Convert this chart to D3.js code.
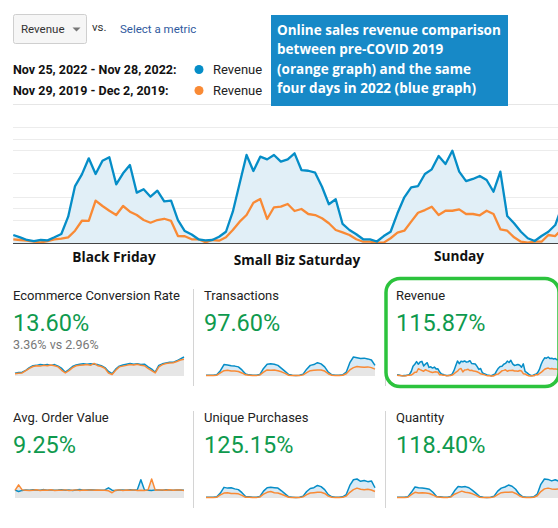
<!DOCTYPE html>
<html lang="en">
<head>
<meta charset="UTF-8">
<title>Revenue comparison</title>
<script src="https://cdnjs.cloudflare.com/ajax/libs/d3/7.8.5/d3.min.js"></script>
<style>
  body { margin: 0; background: #fff; }
  svg { display: block; font-family: Roboto, Arial, sans-serif; }
</style>
</head>
<body>
<div id="chart"></div>
<script>
// ---- data ----
// hourly revenue, Nov 25-28 2022 (blue) and Nov 29 - Dec 2 2019 (orange)
const rev2022 = [345, 245, 130, 85, 130, 115, 245, 390, 1135, 2455, 2960, 3650, 2975, 3545, 3695, 2530,
  3005, 3360, 2170, 2315, 1995, 2255, 1795, 1825, 990, 515, 365, 160, 115, 130, 270, 485,
  1350, 2575, 3795, 3105, 3720, 3605, 3795, 3505, 3605, 3865, 3145, 3115, 3030, 2425, 1670, 1885,
  820, 560, 375, 160, 160, 65, 300, 485, 1280, 1970, 2400, 2455, 2975, 3175, 3750, 3405,
  3980, 3075, 2670, 2760, 2890, 2715, 2210, 3075, 1165, 850, 485, 205, 85, 300, 485, 775,
  1600, 2900, 3900, 4600, 4500, 4800, 4400, 4500, 4300, 4400, 4100, 4200, 4000, 4300, 3900, 2900];
const rev2019 = [160, 130, 100, 55, 30, 85, 160, 185, 245, 530, 960, 950, 1825, 1595, 1390, 1205,
  1595, 1350, 1205, 990, 875, 990, 1045, 950, 300, 290, 160, 160, 30, 130, 100, 245,
  560, 920, 1205, 1735, 1895, 1035, 1540, 1565, 1680, 1380, 1465, 1250, 1205, 1065, 850, 560,
  460, 345, 160, 55, 55, 15, 15, 205, 445, 530, 920, 1305, 1420, 1565, 1205, 1390,
  1390, 1450, 1250, 1250, 1195, 1390, 1250, 590, 530, 245, 55, 15, 55, 55, 345, 300,
  605, 900, 1300, 1700, 1900, 2000, 1800, 1900, 1750, 1800, 1700, 1650, 1600, 1750, 1500, 1100];

// two-hourly sparkline series
const conv2022 = [0.56, 0.72, 0.80, 1.20, 1.76, 2.16, 2.24, 2.40, 2.32, 2.40, 2.24, 2.40, 2.08, 1.60, 0.80, 1.36,
  2.00, 2.32, 2.48, 2.56, 2.48, 2.56, 2.48, 2.40, 2.16, 1.76, 0.96, 0.48, 1.44, 2.08, 2.32, 2.48,
  2.64, 2.48, 2.56, 2.40, 2.48, 1.92, 1.44, 0.80, 2.24, 2.56, 2.72, 2.88, 2.88, 3.20, 3.60, 4.00];
const conv2019 = [0.48, 0.56, 0.64, 1.12, 1.60, 2.00, 2.16, 2.08, 2.24, 2.16, 2.32, 2.16, 1.92, 1.20, 0.64, 1.12,
  1.76, 2.16, 2.24, 2.32, 2.40, 2.24, 2.64, 2.16, 2.00, 1.60, 0.64, 0.32, 1.20, 1.92, 2.08, 2.24,
  2.40, 2.32, 2.48, 2.24, 2.16, 1.60, 1.12, 0.64, 1.92, 2.40, 2.64, 2.72, 2.80, 3.04, 3.36, 3.52];
const trans2022 = [2, 2, 2, 3, 14, 30, 29, 27, 26, 24, 16, 5, 3, 2, 2, 4, 20, 31, 32, 31, 28, 20, 12, 4,
  2, 1, 2, 5, 18, 28, 30, 35, 32, 24, 10, 3, 2, 2, 3, 10, 35, 50, 48, 46, 47, 45, 42, 28];
const trans2019 = [1, 1, 1, 2, 8, 14, 15, 13, 13, 12, 8, 3, 2, 1, 1, 3, 10, 16, 15, 16, 14, 11, 7, 2,
  1, 1, 1, 3, 9, 14, 15, 16, 16, 13, 6, 2, 1, 1, 2, 6, 16, 22, 25, 24, 23, 24, 22, 18];
const aov2022 = [60, 50, 58, 62, 60, 63, 61, 60, 64, 59, 62, 60, 61, 63, 60, 62, 58, 61, 64, 60, 62, 63, 61, 59,
  60, 62, 78, 60, 58, 61, 62, 60, 63, 61, 62, 140, 62, 60, 58, 62, 61, 60, 63, 61, 60, 62, 61, 60];
const aov2019 = [58, 100, 62, 60, 57, 60, 63, 58, 61, 60, 63, 58, 60, 59, 62, 57, 60, 62, 58, 61, 60, 62, 59, 61,
  60, 59, 55, 40, 60, 62, 58, 61, 60, 62, 57, 60, 58, 62, 145, 60, 62, 61, 59, 63, 60, 61, 62, 58];
const uniq2022 = [2, 2, 2, 3, 13, 28, 26, 27, 24, 22, 14, 4, 3, 2, 2, 4, 18, 27, 28, 27, 26, 19, 11, 3,
  2, 1, 2, 5, 17, 25, 27, 33, 30, 22, 9, 3, 2, 2, 3, 9, 33, 48, 50, 44, 46, 43, 45, 27];
const uniq2019 = [1, 1, 1, 2, 8, 13, 14, 12, 12, 11, 7, 2, 2, 1, 1, 3, 10, 15, 17, 14, 13, 10, 6, 2,
  1, 1, 1, 3, 9, 13, 14, 15, 15, 12, 5, 2, 1, 1, 2, 5, 15, 22, 26, 23, 22, 23, 21, 17];
const qty2022 = [2, 2, 2, 3, 15, 29, 27, 26, 25, 23, 15, 4, 3, 2, 2, 4, 19, 30, 29, 30, 27, 20, 12, 4,
  2, 1, 2, 5, 18, 26, 29, 34, 31, 23, 10, 3, 2, 2, 3, 10, 36, 50, 49, 45, 48, 44, 46, 30];
const qty2019 = [1, 1, 1, 2, 9, 15, 13, 14, 13, 12, 8, 3, 2, 1, 1, 3, 10, 14, 18, 15, 14, 11, 7, 2,
  1, 1, 1, 3, 9, 14, 15, 15, 16, 12, 6, 2, 1, 1, 2, 6, 17, 24, 26, 24, 23, 24, 22, 18];

const yTicks = [1000, 2000, 3000, 4000, 5000];
const yTicks2 = [1500, 4500];
const dateRanges = ["Nov 25, 2022 - Nov 28, 2022:", "Nov 29, 2019 - Dec 2, 2019:"];
const seriesNames = ["Revenue", "Revenue"];
const dayLabels = ["Black Friday", "Small Biz Saturday", "Sunday"];
const noteLines = ["Online sales revenue comparison", "between pre-COVID 2019",
  "(orange graph) and the same", "four days in 2022 (blue graph)"];
const metricNames = ["Ecommerce Conversion Rate", "Transactions", "Revenue",
  "Avg. Order Value", "Unique Purchases", "Quantity"];
const metricChanges = ["13.60%", "97.60%", "115.87%", "9.25%", "125.15%", "118.40%"];
const metricSubs = ["3.36% vs 2.96%", "", "", "", "", ""];
const metricSeries = [[conv2022, conv2019], [trans2022, trans2019], [rev2022, rev2019],
  [aov2022, aov2019], [uniq2022, uniq2019], [qty2022, qty2019]];

// ---- layout ----
const W = 558, H = 528;
const blue = "#058dc7", orange = "#f98a35";
const green = "#0f9a4e";

const svg = d3.select("#chart").append("svg")
  .attr("width", W).attr("height", H);

// header: metric selector
svg.append("rect").attr("x", 13.5).attr("y", 14.5).attr("width", 73).attr("height", 29)
  .attr("rx", 2).attr("fill", "#f6f6f6").attr("stroke", "#cfcfcf");
svg.append("text").attr("x", 21).attr("y", 33).attr("font-size", 11.5).attr("fill", "#333").text("Revenue");
svg.append("path").attr("d", "M72.5,27.5 L80.5,27.5 L76.5,31.5 Z").attr("fill", "#777");
svg.append("text").attr("x", 92).attr("y", 31).attr("font-size", 11.5).attr("fill", "#333").text("vs.");
svg.append("text").attr("x", 120).attr("y", 33).attr("font-size", 11.5).attr("fill", "#2f5a9e").text("Select a metric");

// legend
const legend = svg.selectAll(".legend").data(dateRanges).join("g")
  .attr("transform", (d, i) => `translate(0, ${74 + i * 21})`);
legend.append("text").attr("x", 13).attr("font-size", 12.5).attr("font-weight", 700)
  .attr("fill", "#111").text(d => d);
legend.append("circle").attr("cx", 199).attr("cy", -4.5).attr("r", 4.5)
  .attr("fill", (d, i) => i ? orange : blue);
legend.append("text").attr("x", 213).attr("font-size", 13).attr("fill", "#222")
  .text((d, i) => seriesNames[i]);

svg.append("line").attr("x1", 13).attr("x2", W).attr("y1", 104.5).attr("y2", 104.5)
  .attr("stroke", "#e6e6e6");

// note box
svg.append("rect").attr("x", 271).attr("y", 15).attr("width", 237).attr("height", 91).attr("fill", "#1789c7");
svg.append("g").selectAll("text").data(noteLines).join("text")
  .attr("x", 277).attr("y", (d, i) => 35 + i * 19.4)
  .attr("font-family", "'Open Sans', sans-serif").attr("font-weight", 700)
  .attr("font-size", 13.5).attr("fill", "#fff").text(d => d);

// ---- main chart ----
const x = d3.scaleLinear().domain([0, 95]).range([13.3, 13.3 + 95 * 6.86]);
const y = d3.scaleLinear().domain([0, 5000]).range([243, 127]);

const grid = svg.append("g");
grid.selectAll(".g1").data(yTicks.concat(yTicks2)).join("line")
  .attr("x1", 13).attr("x2", W)
  .attr("y1", d => Math.round(y(d)) + 0.5).attr("y2", d => Math.round(y(d)) + 0.5)
  .attr("stroke", "#ececec");

const idx = rev2022.map((d, i) => i);
const area = d3.area().x(i => x(i)).y0(y(0)).y1(i => y(rev2022[i]));
const line = s => d3.line().x(i => x(i)).y(i => y(s[i]));

svg.append("path").datum(idx).attr("d", area).attr("fill", "#e1eff7");
svg.append("path").datum(idx).attr("d", line(rev2019)).attr("fill", "none")
  .attr("stroke", orange).attr("stroke-width", 2.3).attr("stroke-linejoin", "round");
svg.append("path").datum(idx).attr("d", line(rev2022)).attr("fill", "none")
  .attr("stroke", blue).attr("stroke-width", 2.3).attr("stroke-linejoin", "round");

svg.append("line").attr("x1", 13).attr("x2", W).attr("y1", 243.5).attr("y2", 243.5)
  .attr("stroke", "#444");

// day annotations
const dayPos = [[114, 262], [297, 264.5], [459, 260.5]];
svg.append("g").selectAll("text").data(dayLabels).join("text")
  .attr("x", (d, i) => dayPos[i][0]).attr("y", (d, i) => dayPos[i][1])
  .attr("text-anchor", "middle")
  .attr("font-family", "'Open Sans', sans-serif").attr("font-weight", 700)
  .attr("font-size", 13.7).attr("fill", "#111").text(d => d);

// ---- scorecards ----
const colX = [13, 204, 396];
const rowY = [299.5, 421.5];
const sparkX = [[15, 184], [206, 375], [397, 566]];

function sparkline(g, x0, x1, base, s2022, s2019) {
  const sx = d3.scaleLinear().domain([0, s2022.length - 1]).range([x0, x1]);
  const sy = d3.scaleLinear().domain([0, d3.max(s2022.concat(s2019))]).range([base, base - 19]);
  const ids = s2022.map((d, i) => i);
  const ar = s => d3.area().x(i => sx(i)).y0(base).y1(i => sy(s[i]));
  const ln = s => d3.line().x(i => sx(i)).y(i => sy(s[i]));
  g.append("path").datum(ids).attr("d", ar(s2022)).attr("fill", "#d8eaf6");
  g.append("path").datum(ids).attr("d", ar(s2019)).attr("fill", "#e6e6e6");
  g.append("path").datum(ids).attr("d", ln(s2022)).attr("fill", "none")
    .attr("stroke", blue).attr("stroke-width", 1.5).attr("stroke-linejoin", "round");
  g.append("path").datum(ids).attr("d", ln(s2019)).attr("fill", "none")
    .attr("stroke", orange).attr("stroke-width", 1.5).attr("stroke-linejoin", "round");
}

metricNames.forEach((name, k) => {
  const col = k % 3, row = Math.floor(k / 3);
  const g = svg.append("g");
  const ty = rowY[row];
  g.append("text").attr("x", colX[col]).attr("y", ty).attr("font-size", 13)
    .attr("fill", "#222").text(name);
  g.append("text").attr("x", colX[col]).attr("y", ty + 31).attr("font-size", 23.5)
    .attr("fill", green).text(metricChanges[k]);
  if (metricSubs[k]) {
    g.append("text").attr("x", colX[col]).attr("y", ty + 49.5).attr("font-size", 12.5)
      .attr("fill", "#777").text(metricSubs[k]);
  }
  sparkline(g, sparkX[col][0], sparkX[col][1], ty + 76.5, metricSeries[k][0], metricSeries[k][1]);
  if (col > 0) {
    g.append("line").attr("x1", colX[col] - 10.5).attr("x2", colX[col] - 10.5)
      .attr("y1", ty - 10.5).attr("y2", ty + 86.5).attr("stroke", "#d4d4d4");
  }
});

// highlight around the revenue card
svg.append("rect").attr("x", 386).attr("y", 278.5).attr("width", 173).attr("height", 108)
  .attr("rx", 14).attr("fill", "none").attr("stroke", "#2cc33d").attr("stroke-width", 3.5);
</script>
</body>
</html>
